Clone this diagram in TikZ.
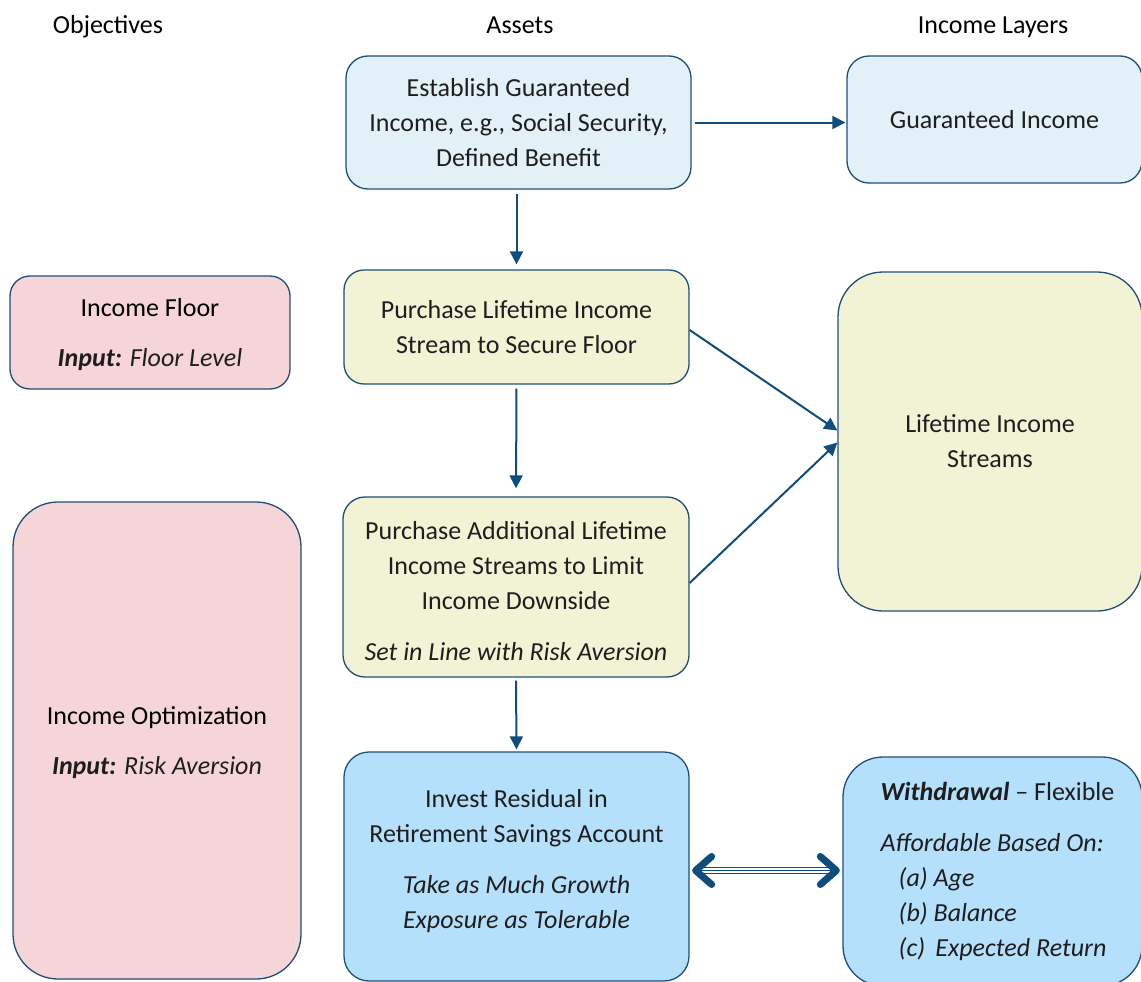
\documentclass[tikz,border=0pt]{standalone}
\usepackage{fontspec}
\setmainfont{Carlito}
\usetikzlibrary{arrows.meta,calc}
\definecolor{bord}{HTML}{1F4E79}
\definecolor{arr}{HTML}{0E4D7D}
\definecolor{fillA}{HTML}{E2F1F8}
\definecolor{fillY}{HTML}{F2F2D5}
\definecolor{fillP}{HTML}{F5D5D7}
\definecolor{fillB}{HTML}{B5E0FB}
\definecolor{txt}{HTML}{1E1E1E}
\tikzset{
  box/.style={draw=bord, line width=1.3pt, align=center, text=txt, inner sep=0pt,
    font=\fontsize{26}{35}\selectfont},
  boxtext/.style={align=center, text=txt, inner sep=0pt, font=\fontsize{26}{35}\selectfont},
  hdr/.style={font=\fontsize{26}{32}\selectfont, text=black, inner sep=0pt, anchor=base},
  conn/.style={draw=arr, line width=2pt, -{Triangle[length=13pt,width=13pt]}},
  chev/.style={draw=arr, line width=7pt, line cap=round, line join=round},
}
\begin{document}
\begin{tikzpicture}[x=1pt,y=-1pt]
\useasboundingbox (0,0) rectangle (1141,982);
% headers
\node[hdr] (h1) at (108,34) {Objectives};
\node[hdr] (h2) at (520,34) {Assets};
\node[hdr] (h3) at (993,34) {Income Layers};
% boxes
\node[box, fill=fillA, rounded corners=22pt, minimum width=345pt, minimum height=133pt] (A) at (518.5,122.5)
  {Establish Guaranteed\\Income, e.g., Social Security,\\Defined Benefit};
\node[box, fill=fillA, rounded corners=22pt, minimum width=295pt, minimum height=127pt] (GI) at (994.5,119.5)
  {Guaranteed Income};
\node[box, fill=fillY, rounded corners=20pt, minimum width=345pt, minimum height=114pt] (B) at (516.5,327)
  {Purchase Lifetime Income\\Stream to Secure Floor};
\node[box, fill=fillY, rounded corners=45pt, minimum width=304pt, minimum height=339pt] (LIS) at (990,441.5)
  {Lifetime Income\\Streams};
\node[box, fill=fillY, rounded corners=22pt, minimum width=346pt, minimum height=180pt] (C) at (516,587) {};
\node[boxtext] (Ct) at ($(C.center)+(0,4)$)
  {Purchase Additional Lifetime\\Income Streams to Limit\\Income Downside\\[16pt]\textit{Set in Line with Risk Aversion}};
\node[box, fill=fillB, rounded corners=25pt, minimum width=345pt, minimum height=229pt] (D) at (516.5,866.5) {};
\node[boxtext] (Dt) at ($(D.center)+(0,-5)$)
  {Invest Residual in\\Retirement Savings Account\\[16pt]\textit{Take as Much Growth}\\\textit{Exposure as Tolerable}};
\node[box, fill=fillB, rounded corners=40pt, minimum width=299pt, minimum height=229pt] (W) at (992.5,871.5) {};
\node[boxtext, align=left] (Wt) at ($(W.center)+(5,0)$)
  {\textbf{\textit{Withdrawal}} -- Flexible\\[16pt]
   \textit{Affordable Based On:}\\
   \hspace*{18pt}\textit{(a) Age}\\
   \hspace*{18pt}\textit{(b) Balance}\\
   \hspace*{18pt}\textit{(c)\, Expected Return}};
\node[box, fill=fillP, rounded corners=20pt, minimum width=280pt, minimum height=113pt] (F) at (150,332.5) {};
\node[boxtext] (Ft) at ($(F.center)+(0,2)$)
  {\textcolor{black}{Income Floor}\\[15pt]\textbf{\textit{Input:}} \textit{Floor Level}};
\node[box, fill=fillP, rounded corners=45pt, minimum width=288pt, minimum height=477pt] (O) at (157,740.5) {};
\node[boxtext] (Ot) at ($(O.center)+(0,2)$)
  {\textcolor{black}{Income Optimization}\\[15pt]\textbf{\textit{Input:}} \textit{Risk Aversion}};
% connectors
\draw[conn, shorten <=4pt, shorten >=5pt] (A.south -| B.north) -- (B.north);
\draw[conn, shorten <=3pt, shorten >=1pt] (A.east) -- (A.east -| GI.west);
\draw[conn, shorten <=4pt, shorten >=8pt] (B.south) -- (C.north);
\draw[conn, shorten <=3pt, shorten >=2pt] (C.south) -- (D.north);
\draw[conn] ([yshift=-3pt]B.east) -- ([yshift=11pt]LIS.west);
\draw[conn] ([yshift=4pt]C.east) -- ([yshift=-1pt]LIS.west);
% double arrow
\coordinate (dl) at ([yshift=-4pt]D.east);
\coordinate (dr) at (dl -| W.west);
\draw[draw=arr, line width=7.5pt, shorten <=5pt, shorten >=5pt] (dl) -- (dr);
\draw[draw=white, line width=4.5pt, shorten <=7pt, shorten >=7pt] (dl) -- (dr);
\draw[draw=arr, line width=1.5pt, shorten <=7pt, shorten >=7pt] (dl) -- (dr);
\draw[chev] ($(dl)+(22,-14)$) -- ($(dl)+(6,0)$) -- ($(dl)+(22,14)$);
\draw[chev] ($(dr)+(-22,-14)$) -- ($(dr)+(-6,0)$) -- ($(dr)+(-22,14)$);
\end{tikzpicture}
\end{document}
